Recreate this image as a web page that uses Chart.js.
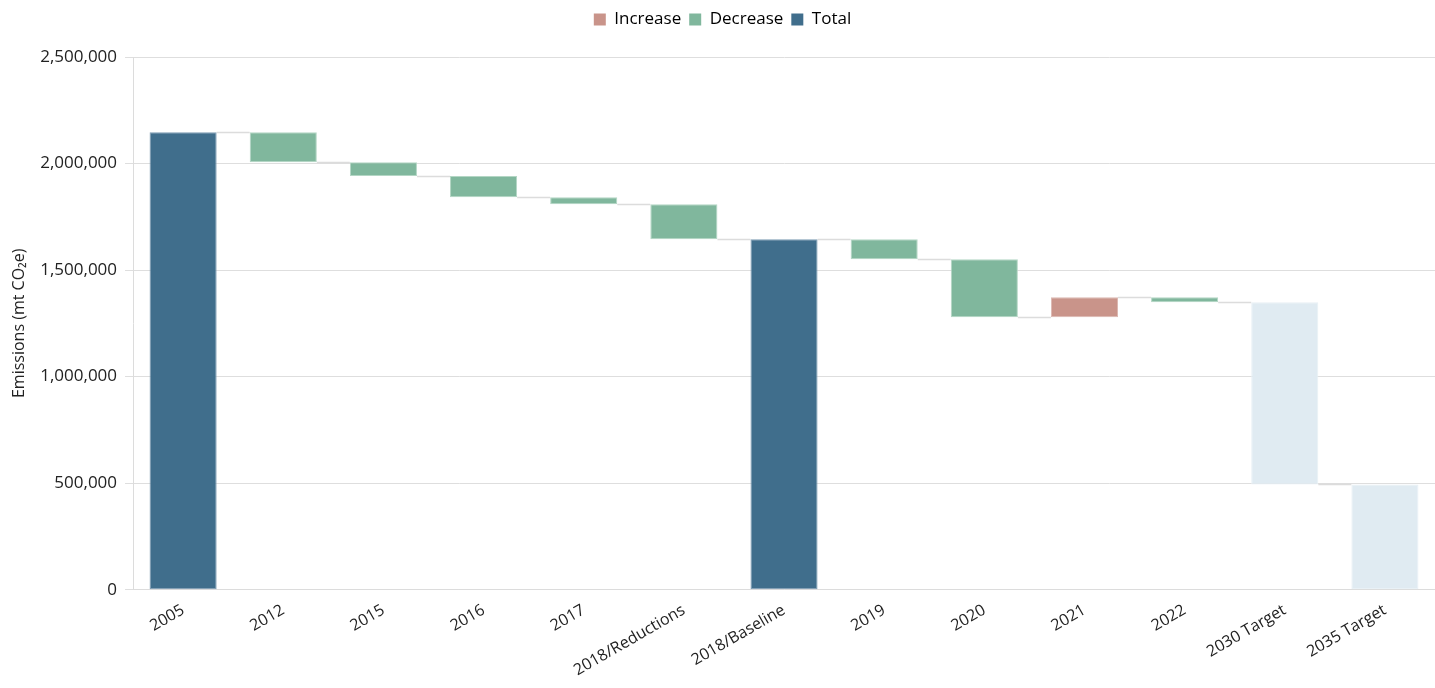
<!DOCTYPE html>
<html>
<head>
<meta charset="utf-8">
<script src="https://cdn.jsdelivr.net/npm/chart.js@4"></script>
<style>
  html, body { margin: 0; padding: 0; background: #fff; }
  #wrap { width: 1435px; height: 688px; }
</style>
</head>
<body>
<div id="wrap"><canvas id="c"></canvas></div>
<script>
// Emissions waterfall, mt CO2e
const categories = ['2005', '2012', '2015', '2016', '2017', '2018/Reductions', '2018/Baseline',
  '2019', '2020', '2021', '2022', '2030 Target', '2035 Target'];
const kinds = ['total', 'decrease', 'decrease', 'decrease', 'decrease', 'decrease', 'total',
  'decrease', 'decrease', 'increase', 'decrease', 'target', 'target'];
const barFrom = [0, 2147000, 2006000, 1941000, 1842000, 1809000, 0,
  1645000, 1551000, 1278000, 1372000, 1349000, 0];
const barTo = [2147000, 2006000, 1941000, 1842000, 1809000, 1645000, 1645000,
  1551000, 1278000, 1372000, 1349000, 494000, 494000];
const yTicks = [0, 500000, 1000000, 1500000, 2000000, 2500000];

const kindColors = {
  increase: '#c9948a',
  decrease: '#80b79d',
  total: '#406e8c',
  target: '#e0ebf2'
};
const kindBorders = {
  increase: '#dcb8b1',
  decrease: '#b3d6c4',
  total: '#7d9cb3',
  target: '#e8f0f5'
};
const legendItems = [
  { text: 'Increase', kind: 'increase' },
  { text: 'Decrease', kind: 'decrease' },
  { text: 'Total', kind: 'total' }
];

const FONT = "'Open Sans', 'Noto Sans', sans-serif";

// Thin horizontal steps joining each bar to the next one
const connectors = {
  id: 'connectors',
  beforeDatasetsDraw(chart) {
    const meta = chart.getDatasetMeta(0);
    const y = chart.scales.y;
    const ctx = chart.ctx;
    ctx.save();
    ctx.strokeStyle = '#dcdcdc';
    ctx.lineWidth = 1.5;
    for (let i = 0; i < meta.data.length - 1; i++) {
      const a = meta.data[i], b = meta.data[i + 1];
      const yy = Math.round(y.getPixelForValue(barTo[i])) + 0.5;
      ctx.beginPath();
      ctx.moveTo(a.x + a.width / 2, yy);
      ctx.lineTo(b.x - b.width / 2, yy);
      ctx.stroke();
    }
    ctx.restore();
  }
};

// Extra room between the legend and the plot
const legendGap = {
  id: 'legendGap',
  beforeInit(chart) {
    const fit = chart.legend.fit;
    chart.legend.fit = function () {
      fit.call(this);
      this.height += 19;
    };
  }
};

new Chart(document.getElementById('c'), {
  type: 'bar',
  data: {
    labels: categories,
    datasets: [{
      label: 'Emissions',
      data: categories.map((_, i) => [barFrom[i], barTo[i]]),
      backgroundColor: kinds.map(k => kindColors[k]),
      borderColor: kinds.map(k => kindBorders[k]),
      borderWidth: 1,
      borderSkipped: false,
      categoryPercentage: 0.67,
      barPercentage: 1.0
    }]
  },
  plugins: [connectors, legendGap],
  options: {
    responsive: true,
    maintainAspectRatio: false,
    animation: false,
    layout: { padding: { left: 10, right: 0, top: 3, bottom: 5 } },
    plugins: {
      tooltip: { enabled: false },
      legend: {
        position: 'top',
        labels: {
          font: { family: FONT, size: 17 },
          color: '#222',
          boxWidth: 12,
          boxHeight: 12,
          padding: 8,
          generateLabels: () => legendItems.map(it => ({
            text: it.text,
            fillStyle: kindColors[it.kind],
            strokeStyle: kindColors[it.kind],
            lineWidth: 0,
            hidden: false
          }))
        },
        onClick: () => {}
      }
    },
    scales: {
      x: {
        grid: { display: false },
        border: { display: true, color: '#dcdcdc' },
        ticks: {
          font: { family: FONT, size: 16 },
          color: '#222',
          minRotation: 30,
          maxRotation: 30,
          autoSkip: false
        }
      },
      y: {
        min: 0,
        max: 2500000,
        afterBuildTicks: axis => { axis.ticks = yTicks.map(v => ({ value: v })); },
        grid: { color: '#dedede', lineWidth: 1 },
        border: { display: true, color: '#dcdcdc' },
        ticks: {
          font: { family: FONT, size: 17 },
          color: '#222',
          padding: 8,
          callback: v => v.toLocaleString('en-US')
        },
        title: {
          display: true,
          text: 'Emissions (mt CO₂e)',
          font: { family: FONT, size: 16 },
          color: '#222',
          padding: { top: 0, bottom: 3 }
        }
      }
    }
  }
});
</script>
</body>
</html>
